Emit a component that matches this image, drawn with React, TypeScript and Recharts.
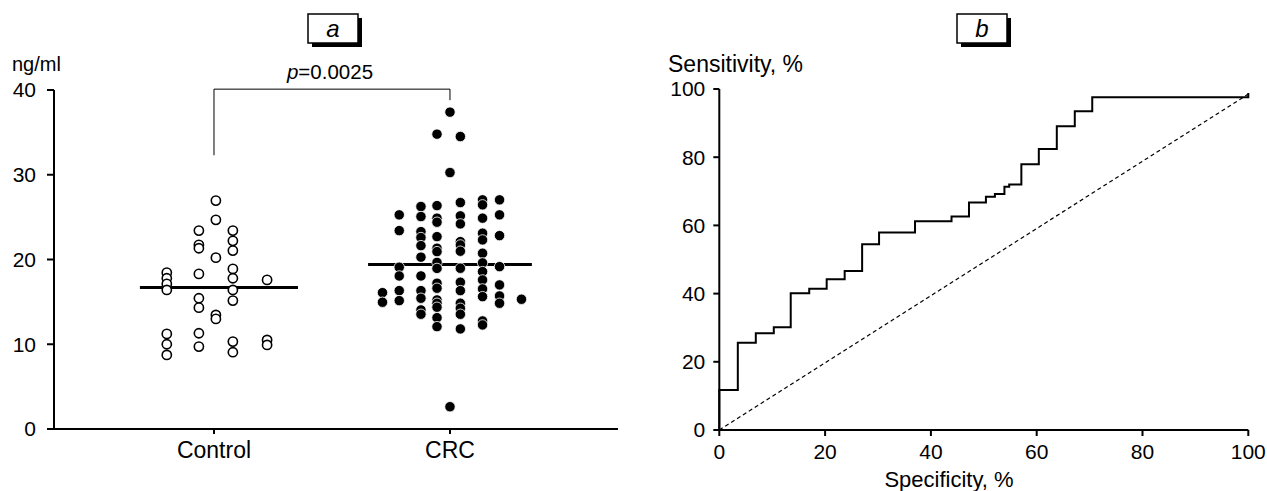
import React from 'react';
import { ScatterChart, Scatter, XAxis, YAxis, ReferenceLine, LineChart, Line } from 'recharts';

// ---------- Panel a data ----------
const groups = ['Control', 'CRC'];
const yTicksA = [0, 10, 20, 30, 40];

// concentrations (ng/ml) and their horizontal spread (in group units) as plotted
const controlValues = [
  18.45, 17.79, 17.12, 16.41, 11.22, 10.0, 8.74,
  23.41, 21.72, 21.33, 18.3, 15.43, 14.32, 11.3, 9.72,
  26.95, 24.68, 20.22, 13.46, 12.99,
  23.41, 22.2, 21.05, 18.89, 17.79, 16.41, 15.15, 10.31, 9.06,
  17.59, 10.51, 9.92,
];
const controlSpread = [
  -0.2, -0.2, -0.2, -0.2, -0.2, -0.2, -0.2,
  -0.064, -0.064, -0.064, -0.064, -0.064, -0.064, -0.064, -0.064,
  0.008, 0.008, 0.008, 0.008, 0.008,
  0.08, 0.08, 0.08, 0.08, 0.08, 0.08, 0.08, 0.08, 0.08,
  0.225, 0.225, 0.225,
];
const crcValues = [
  16.09, 14.96,
  25.27, 23.41, 19.09, 18.06, 16.33, 15.15,
  26.25, 25.07, 23.29, 22.59, 21.64, 20.28, 18.06, 16.33, 15.43, 14.05, 13.54,
  34.79, 26.36, 24.88, 24.4, 22.7, 21.33, 20.93, 19.66, 18.95, 17.2, 16.61, 15.23, 14.84, 14.37, 13.14, 12.08,
  37.39, 30.26, 2.63,
  34.51, 26.72, 25.15, 24.2, 22.11, 21.72, 20.98, 18.97, 17.32, 16.33, 14.84, 14.25, 13.54, 11.81,
  27.04, 26.45, 24.88, 23.11, 22.31, 20.74, 19.6, 18.57, 17.59, 16.53, 15.62, 12.75, 12.28,
  27.04, 25.27, 22.82, 19.16, 17.0, 15.7, 14.84,
  15.31,
];
const crcSpread = [
  -0.286, -0.286,
  -0.215, -0.215, -0.215, -0.215, -0.215, -0.215,
  -0.123, -0.123, -0.123, -0.123, -0.123, -0.123, -0.123, -0.123, -0.123, -0.123, -0.123,
  -0.055, -0.055, -0.055, -0.055, -0.055, -0.055, -0.055, -0.055, -0.055, -0.055, -0.055, -0.055, -0.055, -0.055, -0.055, -0.055,
  0, 0, 0,
  0.044, 0.044, 0.044, 0.044, 0.044, 0.044, 0.044, 0.044, 0.044, 0.044, 0.044, 0.044, 0.044, 0.044,
  0.138, 0.138, 0.138, 0.138, 0.138, 0.138, 0.138, 0.138, 0.138, 0.138, 0.138, 0.138, 0.138,
  0.21, 0.21, 0.21, 0.21, 0.21, 0.21, 0.21,
  0.303,
];
const medians = [16.7, 19.4];
const medianExtent = [[-0.314, 0.356], [-0.347, 0.347]];
const pValue = '0.0025';
const bracketTop = 40.1;
const bracketLeftBottom = 32.3;
const bracketRightBottom = 38.8;

// ---------- Panel b data ----------
const rocSpecificity = [0, 0, 3.5, 6.9, 10.3, 13.5, 17.0, 20.3, 23.7, 27.0, 30.2, 37.0, 43.9, 47.2, 50.4, 52.1, 53.9, 54.8, 57.1, 60.4, 63.8, 67.2, 70.5, 100];
const rocSensitivity = [0, 11.7, 25.6, 28.4, 30.1, 40.1, 41.4, 44.2, 46.6, 54.5, 57.9, 61.2, 62.6, 66.7, 68.4, 69.2, 71.3, 72.0, 77.9, 82.4, 89.1, 93.5, 97.6, 98.8];
const chanceX = [0, 100];
const chanceY = [0, 98.5];
const ticksB = [0, 20, 40, 60, 80, 100];

const FONT = 'Liberation Sans, Arial, Helvetica, sans-serif';

const controlData = controlValues.map((v, i) => ({ x: 0 + controlSpread[i], y: v }));
const crcData = crcValues.map((v, i) => ({ x: 1 + crcSpread[i], y: v }));
const rocData = rocSpecificity.map((s, i) => ({ x: s, y: rocSensitivity[i] }));
const chanceData = chanceX.map((s, i) => ({ x: s, y: chanceY[i] }));

const OpenDot = (p: any) => (
  <circle cx={p.cx} cy={p.cy} r={4.6} fill="#fff" stroke="#000" strokeWidth={1.6} />
);
const FilledDot = (p: any) => (
  <circle cx={p.cx} cy={p.cy} r={5.2} fill="#000" stroke="#fff" strokeWidth={0.8} />
);

const tickStyle = { fill: '#000', fontSize: 21, fontFamily: FONT };
const catTickStyle = { fill: '#000', fontSize: 23, fontFamily: FONT };
const axisStyle = { stroke: '#000', strokeWidth: 2 };

const PLabel = (props: any) => {
  const vb = props.viewBox || {};
  const cx = (vb.x || 0) + (vb.width || 0) / 2;
  const y = (vb.y || 0) - 10;
  return (
    <text x={cx - 2} y={y} textAnchor="middle" fontSize={20.5} fontFamily={FONT} fill="#000">
      <tspan fontStyle="italic">p</tspan>
      <tspan>={pValue}</tspan>
    </text>
  );
};

const BoxLabel = ({ x, y, w, h, text }: { x: number; y: number; w: number; h: number; text: string }) => (
  <g>
    <rect x={x + 4} y={y + 4} width={w} height={h} fill="#000" />
    <rect x={x} y={y} width={w} height={h} fill="#fff" stroke="#000" strokeWidth={1.5} />
    <text x={x + w / 2} y={y + h / 2 + 8} textAnchor="middle" fontSize={24} fontStyle="italic" fontFamily={FONT} fill="#000">
      {text}
    </text>
  </g>
);

export default function App() {
  return (
    <div style={{ position: 'absolute', left: 0, top: 0, width: 1267, height: 491, background: '#fff', fontFamily: FONT }}>
      <div style={{ position: 'absolute', left: 0, top: 0 }}>
        <ScatterChart width={640} height={491} margin={{ top: 90, left: 0, right: 22, bottom: 0 }}>
          <XAxis
            type="number"
            dataKey="x"
            domain={[-0.678, 1.712]}
            allowDataOverflow
            ticks={[0, 1]}
            tickFormatter={(v: number) => groups[v] ?? ''}
            height={62}
            tickSize={5}
            tickMargin={8}
            axisLine={axisStyle}
            tickLine={axisStyle}
            tick={catTickStyle}
          />
          <YAxis
            type="number"
            dataKey="y"
            domain={[0, 40]}
            allowDataOverflow
            ticks={yTicksA}
            width={54}
            tickSize={7}
            tickMargin={11}
            axisLine={axisStyle}
            tickLine={axisStyle}
            tick={tickStyle}
          />
          <Scatter data={controlData} shape={OpenDot} isAnimationActive={false} />
          <Scatter data={crcData} shape={FilledDot} isAnimationActive={false} />
          {medians.map((m, i) => (
            <ReferenceLine
              key={'m' + i}
              segment={[{ x: i + medianExtent[i][0], y: m }, { x: i + medianExtent[i][1], y: m }]}
              stroke="#000"
              strokeWidth={3}
              ifOverflow="visible"
            />
          ))}
          <ReferenceLine segment={[{ x: 0, y: bracketLeftBottom }, { x: 0, y: bracketTop }]} stroke="#000" strokeWidth={1} ifOverflow="visible" />
          <ReferenceLine segment={[{ x: 1, y: bracketRightBottom }, { x: 1, y: bracketTop }]} stroke="#000" strokeWidth={1} ifOverflow="visible" />
          <ReferenceLine
            segment={[{ x: 0, y: bracketTop }, { x: 1, y: bracketTop }]}
            stroke="#000"
            strokeWidth={1}
            ifOverflow="visible"
            label={<PLabel />}
          />
        </ScatterChart>
      </div>
      <div style={{ position: 'absolute', left: 660, top: 0 }}>
        <LineChart width={607} height={491} margin={{ top: 89, left: 0, right: 18.7, bottom: 0 }}>
          <XAxis
            type="number"
            dataKey="x"
            domain={[0, 100]}
            ticks={ticksB}
            height={61}
            tickSize={6}
            tickMargin={8}
            axisLine={axisStyle}
            tickLine={axisStyle}
            tick={tickStyle}
          />
          <YAxis
            type="number"
            dataKey="y"
            domain={[0, 100]}
            ticks={ticksB}
            width={59.3}
            tickSize={6}
            tickMargin={8}
            axisLine={axisStyle}
            tickLine={axisStyle}
            tick={tickStyle}
          />
          <Line data={chanceData} dataKey="y" type="linear" stroke="#000" strokeWidth={1.2} strokeDasharray="4 3" dot={false} activeDot={false} isAnimationActive={false} />
          <Line data={rocData} dataKey="y" type="stepAfter" stroke="#000" strokeWidth={2} dot={false} activeDot={false} isAnimationActive={false} />
        </LineChart>
      </div>
      <svg width={1267} height={491} style={{ position: 'absolute', left: 0, top: 0, pointerEvents: 'none' }}>
        <BoxLabel x={308} y={14} w={50} h={29} text="a" />
        <BoxLabel x={957} y={14} w={50} h={29} text="b" />
        <text x={12} y={70.5} fontSize={20} fontFamily={FONT} fill="#000">ng/ml</text>
        <text x={668} y={71.5} fontSize={23} fontFamily={FONT} fill="#000">Sensitivity, %</text>
        <text x={949} y={487} textAnchor="middle" fontSize={22} fontFamily={FONT} fill="#000">Specificity, %</text>
      </svg>
    </div>
  );
}
